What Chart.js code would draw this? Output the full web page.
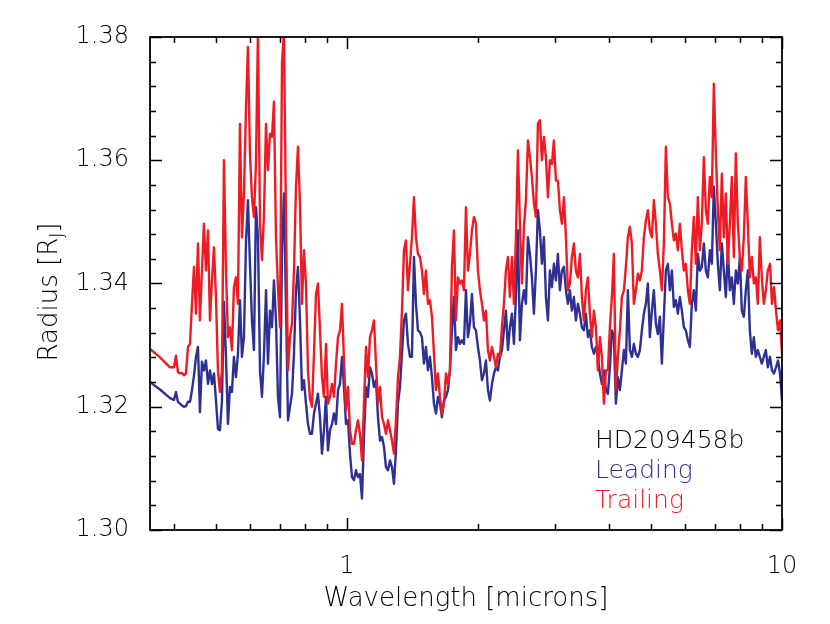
<!DOCTYPE html>
<html>
<head>
<meta charset="utf-8">
<script src="https://cdn.jsdelivr.net/npm/chart.js@4.4.0/dist/chart.umd.min.js"></script>
<style>
  html, body { margin: 0; padding: 0; background: #fff; }
</style>
</head>
<body>
<canvas id="spectrumChart" width="830" height="624"></canvas>
<script>
// wavelength in microns (log axis)
var wavelength = [
  0.3525, 0.3717, 0.3918, 0.4002, 0.4044, 0.4087,
  0.4131, 0.4175, 0.4219, 0.4264, 0.4310,
  0.4356, 0.4402, 0.4449, 0.4497, 0.4544,
  0.4592, 0.4641, 0.4690, 0.4740, 0.4791,
  0.4842, 0.4894, 0.4946, 0.4998, 0.5051,
  0.5105, 0.5159, 0.5214, 0.5270, 0.5326,
  0.5382, 0.5439, 0.5497, 0.5556, 0.5615,
  0.5675, 0.5735, 0.5796, 0.5858, 0.5920,
  0.5983, 0.6047, 0.6111, 0.6176, 0.6242,
  0.6310, 0.6377, 0.6445, 0.6514, 0.6583,
  0.6652, 0.6723, 0.6794, 0.6867, 0.6940,
  0.7014, 0.7089, 0.7164, 0.7240, 0.7317,
  0.7395, 0.7474, 0.7553, 0.7634, 0.7715,
  0.7797, 0.7880, 0.7964, 0.8049, 0.8134,
  0.8221, 0.8308, 0.8397, 0.8486, 0.8577,
  0.8668, 0.8760, 0.8854, 0.8948, 0.9043,
  0.9140, 0.9237, 0.9336, 0.9435, 0.9535,
  0.9636, 0.9739, 0.9842, 0.9947, 1.0053,
  1.0160, 1.0268, 1.0377, 1.0488, 1.0600,
  1.0712, 1.0826, 1.0941, 1.1058, 1.1175,
  1.1294, 1.1414, 1.1536, 1.1658, 1.1783,
  1.1908, 1.2035, 1.2163, 1.2292, 1.2423,
  1.2555, 1.2689, 1.2824, 1.2960, 1.3098,
  1.3237, 1.3378, 1.3520, 1.3664, 1.3809,
  1.3956, 1.4104, 1.4254, 1.4406, 1.4560,
  1.4714, 1.4871, 1.5029, 1.5189, 1.5350,
  1.5514, 1.5679, 1.5846, 1.6015, 1.6185,
  1.6357, 1.6531, 1.6707, 1.6885, 1.7065,
  1.7246, 1.7430, 1.7615, 1.7803, 1.7992,
  1.8183, 1.8376, 1.8572, 1.8770, 1.8969,
  1.9171, 1.9375, 1.9581, 1.9790, 2.0000,
  2.0213, 2.0428, 2.0645, 2.0865, 2.1087,
  2.1311, 2.1538, 2.1767, 2.1999, 2.2233,
  2.2469, 2.2708, 2.2950, 2.3194, 2.3441,
  2.3690, 2.3942, 2.4197, 2.4455, 2.4715,
  2.4977, 2.5243, 2.5512, 2.5783, 2.6057,
  2.6334, 2.6614, 2.6898, 2.7184, 2.7473,
  2.7765, 2.8060, 2.8359, 2.8661, 2.8966,
  2.9274, 2.9585, 2.9900, 3.0219, 3.0540,
  3.0865, 3.1193, 3.1525, 3.1861, 3.2200,
  3.2541, 3.2887, 3.3238, 3.3591, 3.3949,
  3.4310, 3.4675, 3.5044, 3.5417, 3.5794,
  3.6174, 3.6559, 3.6948, 3.7341, 3.7738,
  3.8140, 3.8546, 3.8956, 3.9370, 3.9790,
  4.0212, 4.0640, 4.1072, 4.1509, 4.1951,
  4.2397, 4.2848, 4.3305, 4.3765, 4.4231,
  4.4700, 4.5176, 4.5657, 4.6142, 4.6633,
  4.7129, 4.7630, 4.8138, 4.8650, 4.9168,
  4.9690, 5.0219, 5.0754, 5.1294, 5.1839,
  5.2390, 5.2947, 5.3511, 5.4080, 5.4656,
  5.5237, 5.5825, 5.6419, 5.7019, 5.7626,
  5.8238, 5.8858, 5.9485, 6.0118, 6.0757,
  6.1402, 6.2055, 6.2716, 6.3383, 6.4057,
  6.4738, 6.5427, 6.6124, 6.6827, 6.7538,
  6.8256, 6.8982, 6.9717, 7.0459, 7.1209,
  7.1964, 7.2730, 7.3505, 7.4287, 7.5077,
  7.5875, 7.6682, 7.7499, 7.8323, 7.9156,
  7.9997, 8.0848, 8.1709, 8.2579, 8.3455,
  8.4344, 8.5241, 8.6150, 8.7066, 8.7993,
  8.8927, 8.9873, 9.0831, 9.1797, 9.2773,
  9.3846, 9.4844, 9.5853, 9.6873, 9.7904,
  9.8946, 10.000
];

// trailing limb radius [R_J] (red)
var trailing = [
  1.3294, 1.3280, 1.3264, 1.3264, 1.3283, 1.3256,
  1.3254, 1.3255, 1.3251, 1.3254, 1.3297,
  1.3302, 1.3367, 1.3427, 1.3351, 1.3465,
  1.3340, 1.3421, 1.3497, 1.3421, 1.3486,
  1.3340, 1.3405, 1.3459, 1.3378, 1.3259,
  1.3224, 1.3259, 1.3600, 1.3421, 1.3313,
  1.3329, 1.3292, 1.3394, 1.3410, 1.3367,
  1.3659, 1.3475, 1.3546, 1.3681, 1.3784,
  1.3611, 1.3540, 1.3508, 1.3594, 1.3810,
  1.3497, 1.3438, 1.3513, 1.3659, 1.3584,
  1.3643, 1.3638, 1.3695, 1.3475, 1.3394,
  1.3329, 1.3757, 1.3810, 1.3502, 1.3259,
  1.3313, 1.3335, 1.3421, 1.3557, 1.3622,
  1.3530, 1.3367, 1.3454, 1.3400, 1.3259,
  1.3213, 1.3200, 1.3286, 1.3383, 1.3400,
  1.3324, 1.3248, 1.3216, 1.3302, 1.3205,
  1.3216, 1.3237, 1.3216, 1.3270, 1.3313,
  1.3324, 1.3367, 1.3275, 1.3194, 1.3232,
  1.3162, 1.3140, 1.3140, 1.3162, 1.3178,
  1.3156, 1.3113, 1.3205, 1.3297, 1.3248,
  1.3313, 1.3324, 1.3340, 1.3270, 1.3205,
  1.3232, 1.3183, 1.3172, 1.3156, 1.3178,
  1.3162, 1.3145, 1.3124, 1.3178, 1.3248,
  1.3281, 1.3356, 1.3454, 1.3470, 1.3389,
  1.3432, 1.3475, 1.3540, 1.3475, 1.3448,
  1.3443, 1.3421, 1.3383, 1.3421, 1.3367,
  1.3373, 1.3346, 1.3286, 1.3227, 1.3254,
  1.3216, 1.3189, 1.3205, 1.3254, 1.3237,
  1.3259, 1.3427, 1.3486, 1.3340, 1.3410,
  1.3400, 1.3405, 1.3389, 1.3524, 1.3421,
  1.3448, 1.3486, 1.3508, 1.3497, 1.3421,
  1.3389, 1.3367, 1.3340, 1.3356, 1.3292,
  1.3275, 1.3297, 1.3281, 1.3264, 1.3286,
  1.3281, 1.3329, 1.3367, 1.3421, 1.3443,
  1.3378, 1.3443, 1.3367, 1.3475, 1.3616,
  1.3497, 1.3400, 1.3492, 1.3535, 1.3632,
  1.3605, 1.3573, 1.3530, 1.3508, 1.3659,
  1.3665, 1.3600, 1.3638, 1.3605, 1.3540,
  1.3600, 1.3594, 1.3632, 1.3567, 1.3567,
  1.3519, 1.3497, 1.3540, 1.3475, 1.3389,
  1.3400, 1.3443, 1.3465, 1.3421, 1.3410,
  1.3448, 1.3378, 1.3340, 1.3389, 1.3410,
  1.3351, 1.3313, 1.3356, 1.3329, 1.3259,
  1.3313, 1.3281, 1.3205, 1.3259, 1.3259,
  1.3329, 1.3378, 1.3448, 1.3227, 1.3281,
  1.3324, 1.3378, 1.3389, 1.3427, 1.3475,
  1.3492, 1.3465, 1.3367, 1.3389, 1.3416,
  1.3405, 1.3421, 1.3475, 1.3502, 1.3519,
  1.3486, 1.3475, 1.3535, 1.3497, 1.3448,
  1.3421, 1.3389, 1.3465, 1.3622, 1.3540,
  1.3530, 1.3497, 1.3470, 1.3481, 1.3454,
  1.3497, 1.3454, 1.3421, 1.3432, 1.3389,
  1.3367, 1.3454, 1.3508, 1.3432, 1.3540,
  1.3454, 1.3497, 1.3605, 1.3519, 1.3497,
  1.3573, 1.3540, 1.3724, 1.3611, 1.3519,
  1.3454, 1.3578, 1.3475, 1.3546, 1.3432,
  1.3497, 1.3573, 1.3443, 1.3611, 1.3497,
  1.3443, 1.3421, 1.3475, 1.3573, 1.3497,
  1.3410, 1.3443, 1.3400, 1.3410, 1.3367,
  1.3475, 1.3410, 1.3367, 1.3389, 1.3421,
  1.3432, 1.3367, 1.3394, 1.3356, 1.3324,
  1.3340, 1.3286
];

// leading limb radius [R_J] (blue)
var leading = [
  1.3240, 1.3228, 1.3214, 1.3211, 1.3224, 1.3208,
  1.3205, 1.3202, 1.3200, 1.3201, 1.3208,
  1.3208, 1.3227, 1.3251, 1.3281, 1.3297,
  1.3191, 1.3273, 1.3259, 1.3275, 1.3237,
  1.3259, 1.3237, 1.3254, 1.3210, 1.3164,
  1.3162, 1.3210, 1.3370, 1.3281, 1.3172,
  1.3232, 1.3224, 1.3281, 1.3248, 1.3286,
  1.3373, 1.3281, 1.3313, 1.3465, 1.3535,
  1.3432, 1.3340, 1.3292, 1.3524, 1.3475,
  1.3259, 1.3216, 1.3286, 1.3389, 1.3270,
  1.3356, 1.3329, 1.3405, 1.3340, 1.3216,
  1.3183, 1.3454, 1.3546, 1.3367, 1.3178,
  1.3200, 1.3221, 1.3286, 1.3389, 1.3427,
  1.3340, 1.3227, 1.3243, 1.3205, 1.3172,
  1.3156, 1.3156, 1.3189, 1.3205, 1.3221,
  1.3183, 1.3124, 1.3162, 1.3216, 1.3129,
  1.3162, 1.3172, 1.3189, 1.3172, 1.3227,
  1.3237, 1.3281, 1.3232, 1.3172, 1.3178,
  1.3124, 1.3086, 1.3081, 1.3097, 1.3086,
  1.3091, 1.3051, 1.3151, 1.3232, 1.3216,
  1.3264, 1.3254, 1.3232, 1.3243, 1.3183,
  1.3145, 1.3151, 1.3135, 1.3102, 1.3097,
  1.3113, 1.3102, 1.3075, 1.3129, 1.3205,
  1.3232, 1.3286, 1.3340, 1.3351, 1.3302,
  1.3281, 1.3281, 1.3443, 1.3367, 1.3324,
  1.3321, 1.3313, 1.3270, 1.3297, 1.3259,
  1.3281, 1.3248, 1.3205, 1.3189, 1.3216,
  1.3205, 1.3183, 1.3210, 1.3216, 1.3227,
  1.3259, 1.3324, 1.3378, 1.3292, 1.3313,
  1.3302, 1.3308, 1.3302, 1.3389, 1.3313,
  1.3335, 1.3383, 1.3329, 1.3324, 1.3297,
  1.3275, 1.3243, 1.3254, 1.3275, 1.3227,
  1.3210, 1.3237, 1.3254, 1.3264, 1.3259,
  1.3281, 1.3292, 1.3324, 1.3356, 1.3292,
  1.3329, 1.3351, 1.3302, 1.3378, 1.3486,
  1.3308, 1.3367, 1.3389, 1.3367, 1.3475,
  1.3448, 1.3410, 1.3351, 1.3421, 1.3519,
  1.3486, 1.3432, 1.3475, 1.3378, 1.3340,
  1.3421, 1.3394, 1.3432, 1.3405, 1.3448,
  1.3389, 1.3421, 1.3427, 1.3389, 1.3367,
  1.3389, 1.3356, 1.3378, 1.3340, 1.3367,
  1.3351, 1.3329, 1.3324, 1.3351, 1.3313,
  1.3324, 1.3297, 1.3286, 1.3297, 1.3281,
  1.3254, 1.3237, 1.3259, 1.3227, 1.3221,
  1.3264, 1.3324, 1.3313, 1.3205, 1.3248,
  1.3227, 1.3259, 1.3292, 1.3270, 1.3389,
  1.3292, 1.3281, 1.3302, 1.3286, 1.3281,
  1.3292, 1.3324, 1.3351, 1.3367, 1.3400,
  1.3313, 1.3356, 1.3389, 1.3335, 1.3318,
  1.3346, 1.3270, 1.3346, 1.3421, 1.3432,
  1.3389, 1.3421, 1.3362, 1.3373, 1.3351,
  1.3378, 1.3356, 1.3329, 1.3324, 1.3308,
  1.3297, 1.3367, 1.3389, 1.3356, 1.3448,
  1.3421, 1.3427, 1.3465, 1.3421, 1.3410,
  1.3454, 1.3432, 1.3557, 1.3497, 1.3432,
  1.3389, 1.3465, 1.3421, 1.3378, 1.3454,
  1.3389, 1.3410, 1.3367, 1.3421, 1.3400,
  1.3443, 1.3356, 1.3346, 1.3389, 1.3421,
  1.3324, 1.3286, 1.3313, 1.3281, 1.3292,
  1.3281, 1.3270, 1.3281, 1.3292, 1.3264,
  1.3281, 1.3259, 1.3254, 1.3264, 1.3275,
  1.3254, 1.3210
];

var xTickValues = [0.4, 0.5, 0.6, 0.7, 0.8, 0.9, 1, 2, 3, 4, 5, 6, 7, 8, 9, 10];
var xTickLabels = [1, 10];
var yTickLabels = [1.30, 1.32, 1.34, 1.36, 1.38];
var yMinorStep = 0.004;

var RED = '#ED1C24';
var BLUE = '#2E3192';
var FONT = '"DejaVu Sans", sans-serif';
var WEIGHT = '200';

// inward ticks on all four sides, box frame, titles and the text legend
var frameAndText = {
  id: 'frameAndText',
  afterDraw: function(chart) {
    var ctx = chart.ctx;
    var a = chart.chartArea;
    var xs = chart.scales.x, ys = chart.scales.y;
    ctx.save();
    ctx.strokeStyle = '#000';
    ctx.lineWidth = 1.8;
    ctx.strokeRect(a.left, a.top, a.right - a.left, a.bottom - a.top);

    ctx.beginPath();
    xTickValues.forEach(function(v) {
      var px = Math.round(xs.getPixelForValue(v)) + 0.5;
      var len = xTickLabels.indexOf(v) >= 0 ? 12 : 6;
      ctx.moveTo(px, a.bottom); ctx.lineTo(px, a.bottom - len);
      ctx.moveTo(px, a.top); ctx.lineTo(px, a.top + len);
    });
    for (var i = 0; i <= 20; i++) {
      var v = 1.30 + i * yMinorStep;
      var py = Math.round(ys.getPixelForValue(v)) + 0.5;
      var len = (i % 5 === 0) ? 12 : 6;
      ctx.moveTo(a.left, py); ctx.lineTo(a.left + len, py);
      ctx.moveTo(a.right, py); ctx.lineTo(a.right - len, py);
    }
    ctx.lineWidth = 1.5;
    ctx.stroke();

    // x title
    ctx.fillStyle = '#000';
    ctx.font = WEIGHT + ' 26px ' + FONT;
    ctx.textAlign = 'center';
    ctx.textBaseline = 'alphabetic';
    ctx.fillText('Wavelength [microns]', (a.left + a.right) / 2, 606);

    // y title with subscript J
    var main = 'Radius [R', tail = ']';
    ctx.font = WEIGHT + ' 26px ' + FONT;
    var w1 = ctx.measureText(main).width;
    var w3 = ctx.measureText(tail).width;
    ctx.font = WEIGHT + ' 17px ' + FONT;
    var w2 = ctx.measureText('J').width;
    var total = w1 + w2 + w3;
    ctx.translate(57, 292);
    ctx.rotate(-Math.PI / 2);
    ctx.textAlign = 'left';
    ctx.font = WEIGHT + ' 26px ' + FONT;
    ctx.fillText(main, -total / 2, 0);
    ctx.font = WEIGHT + ' 17px ' + FONT;
    ctx.fillText('J', -total / 2 + w1, 5);
    ctx.font = WEIGHT + ' 26px ' + FONT;
    ctx.fillText(tail, -total / 2 + w1 + w2, 0);
    ctx.setTransform(1, 0, 0, 1, 0, 0);

    // legend text
    ctx.font = WEIGHT + ' 25px ' + FONT;
    ctx.textAlign = 'left';
    var lx = a.right - 187;
    ctx.fillStyle = '#000';
    ctx.fillText('HD209458b', lx, 448);
    ctx.fillStyle = BLUE;
    ctx.fillText('Leading', lx, 478);
    ctx.fillStyle = RED;
    ctx.fillText('Trailing', lx, 508);
    ctx.restore();
  }
};

function toPoints(ys) {
  return wavelength.map(function(w, i) { return { x: w, y: ys[i] }; });
}

function init() {
  var ctx = document.getElementById('spectrumChart');
  new Chart(ctx, {
    type: 'line',
    data: {
      datasets: [
        { label: 'Trailing', data: toPoints(trailing), borderColor: RED, order: 0 },
        { label: 'Leading', data: toPoints(leading), borderColor: BLUE, order: 1 }
      ]
    },
    options: {
      responsive: false,
      animation: false,
      devicePixelRatio: 1,
      layout: { padding: { top: 37, right: 48, left: 0, bottom: 0 } },
      elements: {
        point: { radius: 0 },
        line: { borderWidth: 2.4, tension: 0, fill: false, borderJoinStyle: 'round' }
      },
      plugins: { legend: { display: false }, tooltip: { enabled: false } },
      scales: {
        x: {
          type: 'logarithmic',
          min: wavelength[0],
          max: 10,
          grid: { display: false },
          border: { display: false },
          afterBuildTicks: function(s) { s.ticks = xTickLabels.map(function(v) { return { value: v }; }); },
          afterFit: function(s) { s.height = 94; },
          ticks: {
            color: '#000',
            font: { family: FONT, size: 24, weight: WEIGHT },
            padding: 14,
            maxRotation: 0,
            autoSkip: false,
            callback: function(v) { return String(v); }
          }
        },
        y: {
          min: 1.30,
          max: 1.38,
          grid: { display: false },
          border: { display: false },
          afterBuildTicks: function(s) { s.ticks = yTickLabels.map(function(v) { return { value: v }; }); },
          afterFit: function(s) { s.width = 150; },
          ticks: {
            color: '#000',
            font: { family: FONT, size: 24, weight: WEIGHT },
            padding: 13,
            callback: function(v) { return Number(v).toFixed(2); }
          }
        }
      }
    },
    plugins: [frameAndText]
  });
}

document.addEventListener('DOMContentLoaded', init);
</script>
</body>
</html>
